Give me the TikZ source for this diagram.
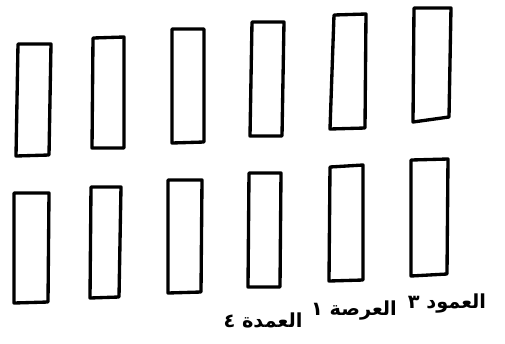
\documentclass[tikz,border=0pt]{standalone}
\usepackage{fontspec}
\newfontfamily\arabicfont[Script=Arabic]{DejaVu Sans}
\TeXXeTstate=1
\tikzset{
  bar/.style={line width=1.9pt,line join=round},
  word/.style={inner sep=0pt,font=\arabicfont\bfseries\fontsize{11}{13}\selectfont}
}
\begin{document}
\begin{tikzpicture}[x=0.02cm,y=-0.02cm]
\useasboundingbox (0,0) rectangle (505,343);
% Upper row
\draw[bar] (18,44) -- (51,44) -- (49,155) -- (16,156) -- cycle;
\draw[bar] (93,38) -- (124,37) -- (124,148) -- (92,148) -- cycle;
\draw[bar] (172,29) -- (204,29) -- (204,142) -- (172,143) -- cycle;
\draw[bar] (252,22) -- (284,22) -- (282,136) -- (250,136) -- cycle;
\draw[bar] (334,15) -- (366,14) -- (365,128) -- (330,129) -- cycle;
\draw[bar] (414,8) -- (451,8) -- (449,117) -- (413,122) -- cycle;
% Lower row
\draw[bar] (14,193) -- (49,193) -- (48,302) -- (14,303) -- cycle;
\draw[bar] (91,187) -- (121,187) -- (119,297) -- (90,298) -- cycle;
\draw[bar] (168,180) -- (202,180) -- (201,292) -- (168,293) -- cycle;
\draw[bar] (249,173) -- (281,173) -- (280,287) -- (248,287) -- cycle;
\draw[bar] (330,167) -- (363,165) -- (363,280) -- (329,281) -- cycle;
\draw[bar] (411,160) -- (448,159) -- (447,274) -- (411,276) -- cycle;
% Labels
\node[word] (col3) at (447,304) {\beginR العمود ٣\endR};
\node[word] (col1) at (354,311) {\beginR العرصة ١\endR};
\node[word] (col4) at (263,320) {\beginR العمدة ٤\endR};
\end{tikzpicture}
\end{document}
